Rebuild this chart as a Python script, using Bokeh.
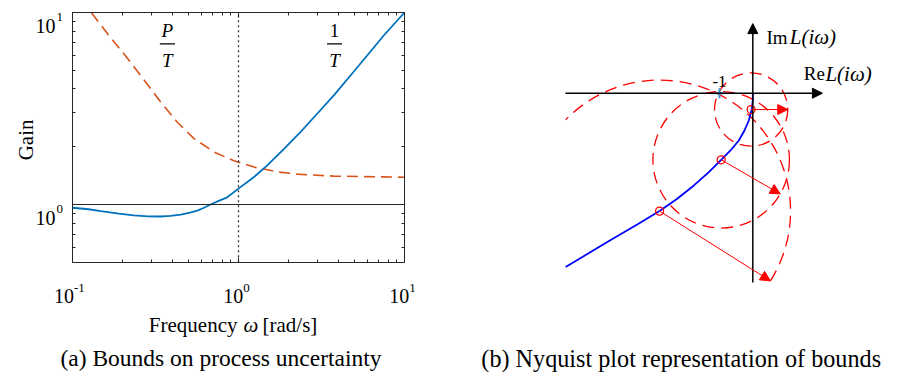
import math
from bokeh.plotting import figure
from bokeh.layouts import row
from bokeh.models import (FixedTicker, LogAxis, Label, Arrow, NormalHead,
                          CustomJSTickFormatter)
from bokeh.embed import file_html
from bokeh.resources import INLINE

SERIF = "Liberation Serif"
AX = "#262626"

# ---------------- panel (a): bounds on process uncertainty ----------------
freq_inv_T = [0.1, 0.125, 0.148, 0.19, 0.234, 0.285, 0.339, 0.39, 0.448, 0.51, 0.564,
              0.62, 0.678, 0.76, 0.855, 1.0, 1.24, 1.49, 1.88, 2.36, 2.98, 3.75,
              4.73, 5.96, 7.50, 10.0]
gain_inv_T = [0.962, 0.945, 0.923, 0.897, 0.877, 0.868, 0.866, 0.872, 0.887, 0.908, 0.93,
              0.962, 1.0, 1.045, 1.09, 1.21, 1.39, 1.60, 1.95, 2.38, 2.97, 3.70,
              4.70, 5.97, 7.59, 10.0]
freq_P_T = [0.130, 0.169, 0.213, 0.269, 0.339, 0.427, 0.538, 0.710, 0.938, 1.24,
            1.71, 2.36, 3.75, 10.0]
gain_P_T = [9.96, 7.44, 5.82, 4.47, 3.43, 2.69, 2.21, 1.88, 1.69, 1.567,
            1.479, 1.435, 1.406, 1.387]
unity_gain = 1.0
crossover_freq = 1.0

x_ticks = [0.1, 1.0, 10.0]
x_tick_exp = ["-1", "0", "1"]
x_minor = [0.2, 0.3, 0.4, 0.5, 0.6, 0.7, 0.8, 0.9, 2, 3, 4, 5, 6, 7, 8, 9]
y_ticks = [1.0, 10.0]
y_tick_exp = ["0", "1"]
y_minor = [0.5, 0.6, 0.7, 0.8, 0.9, 2, 3, 4, 5, 6, 7, 8, 9]
tick_base = "10"
x_box = (0.1, 10.0)          # plotted frequency range
y_box = (0.5, 10.0)          # plotted gain range
x_view = (0.03683, 16.48)    # whole canvas of panel (a)
y_view = (0.1334, 11.55)

frac_x = [0.373, 3.79]
frac_num = ["P", "1"]
frac_num_style = ["italic", "normal"]
frac_den = ["T", "T"]

x_label_parts = ["Frequency", "ω", "[rad/s]"]
y_label_a = "Gain"
caption_a = "(a) Bounds on process uncertainty"

# ---------------- panel (b): Nyquist plot ----------------
nyq_re = [0.0, 0.0, -0.04, -0.12, -0.25, -0.42, -0.67, -0.95, -1.32, -1.77, -2.27,
          -2.80, -3.47, -4.37, -5.62]
nyq_im = [0.0, -0.22, -0.52, -0.82, -1.12, -1.42, -1.72, -2.00, -2.37, -2.77, -3.17,
          -3.54, -3.94, -4.47, -5.22]
pt_re = [-0.05, -0.95, -2.80]
pt_im = [-0.49, -2.00, -3.54]
pt_radius = [1.10, 2.05, 3.934]
arrow_deg = [0.0, -30.0, -32.2]
big_arc_deg = (-32.2, 135.8)   # visible part of the largest circle
crit_re, crit_im, crit_text = -1.0, 0.0, "-1"
re_axis = (-5.625, 2.09)
im_axis = (-5.685, 2.09)
x_view_b = (-9.378, 4.375)
y_view_b = (-8.387, 2.784)
caption_b = "(b) Nyquist plot representation of bounds"

# ======================= figure (a) =======================
p = figure(width=440, height=372, x_axis_type="log", y_axis_type="log",
           x_range=x_view, y_range=y_view, x_axis_location=None, y_axis_location=None,
           output_backend="svg", toolbar_location=None, min_border=0)
p.grid.visible = False
p.outline_line_color = None

xt = FixedTicker(ticks=x_ticks, minor_ticks=x_minor)
yt = FixedTicker(ticks=y_ticks, minor_ticks=y_minor)


def box_axis(ticker, loc, bounds):
    return LogAxis(ticker=ticker, formatter=CustomJSTickFormatter(code="return ''"),
                   fixed_location=loc, bounds=bounds,
                   major_tick_in=5, major_tick_out=0, minor_tick_in=3, minor_tick_out=0,
                   major_label_standoff=0, major_label_text_font_size="1px",
                   axis_line_color=AX, major_tick_line_color=AX, minor_tick_line_color=AX,
                   axis_line_width=1)


p.add_layout(box_axis(xt, y_box[0], x_box), "below")
p.add_layout(box_axis(xt, y_box[1], x_box), "above")
p.add_layout(box_axis(yt, x_box[0], y_box), "left")
p.add_layout(box_axis(yt, x_box[1], y_box), "right")

p.line(freq_P_T, gain_P_T, line_color="#D95319", line_width=1.6, line_dash="11 6")
p.line(freq_inv_T, gain_inv_T, line_color="#0072BD", line_width=1.8)
p.segment(x0=[x_box[0]], x1=[x_box[1]], y0=[unity_gain], y1=[unity_gain],
          line_color=AX, line_width=1.2)
p.segment(x0=[crossover_freq], x1=[crossover_freq], y0=[y_box[0]], y1=[y_box[1]],
          line_color="#333333", line_width=1.3, line_dash="2 3")

# fraction labels P/T and 1/T
num_y, bar_y, den_y = 8.06, 6.87, 5.62
bar_half = 1.11
for fx, num, st, den in zip(frac_x, frac_num, frac_num_style, frac_den):
    p.add_layout(Label(x=fx, y=num_y, text=num, text_font=SERIF, text_font_style=st,
                       text_font_size="19px", text_align="center",
                       text_baseline="alphabetic", text_color="black"))
    p.add_layout(Label(x=fx, y=den_y, text=den, text_font=SERIF, text_font_style="italic",
                       text_font_size="19px", text_align="center",
                       text_baseline="alphabetic", text_color="black"))
p.segment(x0=[fx / bar_half for fx in frac_x], x1=[fx * bar_half for fx in frac_x],
          y0=[bar_y] * len(frac_x), y1=[bar_y] * len(frac_x),
          line_color="black", line_width=1.2)

# tick labels 10^k
for t, e in zip(x_ticks, x_tick_exp):
    shift = 3.3 * len(e) + 2
    p.add_layout(Label(x=t, y=y_box[0], x_offset=-shift, y_offset=-34, text=tick_base,
                       text_font=SERIF, text_font_size="20px", text_align="center",
                       text_baseline="alphabetic", text_color="black"))
    p.add_layout(Label(x=t, y=y_box[0], x_offset=-shift + 10, y_offset=-25.5, text=e,
                       text_font=SERIF, text_font_size="13px", text_align="left",
                       text_baseline="alphabetic", text_color="black"))
for t, e in zip(y_ticks, y_tick_exp):
    p.add_layout(Label(x=x_box[0], y=t, x_offset=-17, y_offset=-13, text=tick_base,
                       text_font=SERIF, text_font_size="20px", text_align="right",
                       text_baseline="alphabetic", text_color="black"))
    p.add_layout(Label(x=x_box[0], y=t, x_offset=-16, y_offset=-4, text=e,
                       text_font=SERIF, text_font_size="13px", text_align="left",
                       text_baseline="alphabetic", text_color="black"))

# axis titles and caption
for part, dx, align, style in zip(x_label_parts, [-1, 5, 24], ["right", "left", "left"],
                                  ["normal", "italic", "normal"]):
    p.add_layout(Label(x=crossover_freq, y=y_box[0], x_offset=dx, y_offset=-63, text=part,
                       text_font=SERIF, text_font_size="21px", text_font_style=style,
                       text_align=align, text_baseline="alphabetic", text_color="black"))
p.add_layout(Label(x=x_box[0], y=2.17, x_offset=-47, text=y_label_a, angle=math.pi / 2,
                   text_font=SERIF, text_font_size="21px", text_align="center",
                   text_baseline="alphabetic", text_color="black"))
p.add_layout(Label(x=0.7846, y=0.1587, text=caption_a, text_font=SERIF,
                   text_font_size="23.5px", text_align="center",
                   text_baseline="alphabetic", text_color="black"))

# ======================= figure (b) =======================
q = figure(width=458, height=372, x_range=x_view_b, y_range=y_view_b,
           x_axis_location=None, y_axis_location=None,
           output_backend="svg", toolbar_location=None, min_border=0)
q.grid.visible = False
q.outline_line_color = None

dash_style = dict(line_color="red", line_width=1.3, line_dash="12 7")
q.circle(pt_re[:2], pt_im[:2], radius=pt_radius[:2], fill_color=None, **dash_style)
q.arc(x=[pt_re[2]], y=[pt_im[2]], radius=[pt_radius[2]],
      start_angle=big_arc_deg[0], end_angle=big_arc_deg[1], start_angle_units="deg",
      end_angle_units="deg", direction="anticlock", **dash_style)
q.line(nyq_re, nyq_im, line_color="blue", line_width=1.8)

q.add_layout(Arrow(end=NormalHead(size=10, fill_color="black", line_color="black"),
                   x_start=re_axis[0], y_start=0, x_end=re_axis[1], y_end=0,
                   line_color="black", line_width=1.5))
q.add_layout(Arrow(end=NormalHead(size=10, fill_color="black", line_color="black"),
                   x_start=0, y_start=im_axis[0], x_end=0, y_end=im_axis[1],
                   line_color="black", line_width=1.5))

for cx, cy, r, a in zip(pt_re, pt_im, pt_radius, arrow_deg):
    ang = math.radians(a)
    q.add_layout(Arrow(end=NormalHead(size=10, fill_color="red", line_color="red"),
                       x_start=cx, y_start=cy,
                       x_end=cx + r * math.cos(ang), y_end=cy + r * math.sin(ang),
                       line_color="red", line_width=1.0))

q.scatter(pt_re, pt_im, marker="circle", size=8, fill_color=None, line_color="red",
          line_width=1.3)
q.scatter([crit_re], [crit_im], marker="cross", size=10, line_color="#3f8fd2", line_width=2)

q.add_layout(Label(x=crit_re, y=crit_im, y_offset=12, text=crit_text, text_font=SERIF,
                   text_font_size="17px", text_align="center", text_baseline="alphabetic",
                   text_color="black"))
q.add_layout(Label(x=0.41, y=1.68, text="Im", text_font=SERIF, text_font_size="19px",
                   text_align="left", text_baseline="alphabetic", text_color="black"))
q.add_layout(Label(x=1.11, y=1.68, text="L(iω)", text_font=SERIF, text_font_style="italic",
                   text_font_size="21px", text_align="left", text_baseline="alphabetic",
                   text_color="black"))
q.add_layout(Label(x=1.53, y=0.58, text="Re", text_font=SERIF, text_font_size="19px",
                   text_align="left", text_baseline="alphabetic", text_color="black"))
q.add_layout(Label(x=2.18, y=0.58, text="L(iω)", text_font=SERIF, text_font_style="italic",
                   text_font_size="21px", text_align="left", text_baseline="alphabetic",
                   text_color="black"))
q.add_layout(Label(x=-2.15, y=-7.952, text=caption_b, text_font=SERIF,
                   text_font_size="24.2px", text_align="center",
                   text_baseline="alphabetic", text_color="black"))

layout = row(p, q)
open("out.html", "w").write(file_html(layout, INLINE))
